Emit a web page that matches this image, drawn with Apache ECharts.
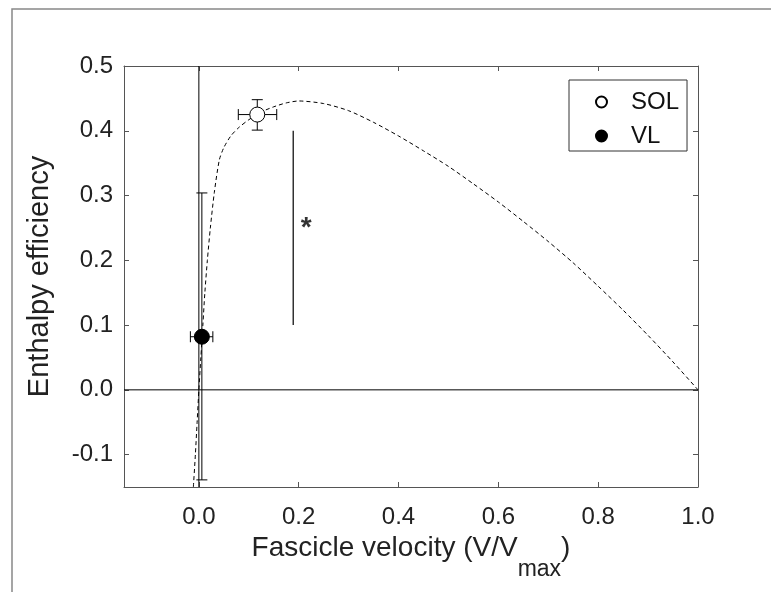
<!DOCTYPE html>
<html>
<head>
<meta charset="utf-8">
<script src="https://cdn.jsdelivr.net/npm/echarts@6/dist/echarts.min.js"></script>
<style>
html,body{margin:0;padding:0;background:#fff;}
#chart{width:771px;height:592px;}
</style>
</head>
<body>
<div id="chart"></div>
<script>
// ---- data ----
var xTicks = [0, 0.2, 0.4, 0.6, 0.8, 1.0];
var yTicks = [-0.1, 0, 0.1, 0.2, 0.3, 0.4, 0.5];
var xRange = [-0.15, 1.0];
var yRange = [-0.15, 0.5];

// dashed efficiency curve (x, y)
var curveX = [-0.011, -0.007, -0.0035, 0.0, 0.004, 0.008, 0.012, 0.017, 0.023, 0.031, 0.041, 0.050, 0.064, 0.080, 0.100, 0.125, 0.150, 0.175, 0.200, 0.250, 0.300, 0.350, 0.400, 0.450, 0.500, 0.550, 0.600, 0.650, 0.700, 0.750, 0.800, 0.850, 0.900, 0.950, 1.000];
var curveY = [-0.150, -0.100, -0.050, 0.000, 0.050, 0.100, 0.150, 0.200, 0.250, 0.305, 0.355, 0.374, 0.392, 0.405, 0.417, 0.429, 0.437, 0.443, 0.446, 0.442, 0.431, 0.413, 0.392, 0.369, 0.345, 0.318, 0.290, 0.260, 0.229, 0.196, 0.160, 0.123, 0.084, 0.043, 0.000];

// muscle means and error limits: [x, y, xLow, xHigh, yLow, yHigh]
var solPoint = [0.117, 0.425, 0.079, 0.156, 0.401, 0.448];
var vlPoint  = [0.006, 0.082, -0.017, 0.028, -0.139, 0.304];

// significance bar and its asterisk
var sigBarX = 0.189;
var sigBarY = [0.10, 0.40];
var sigStar = [0.213, 0.259];

// reference zero lines
var zeroV = [[0, -0.15], [0, 0.5]];
var zeroH = [[-0.15, 0], [1.0, 0]];

var seriesNames = ['SOL', 'VL'];
// ---------------------------------------

var chart = echarts.init(document.getElementById('chart'), null, {renderer: 'canvas'});
var FONT = 'Liberation Sans, Arial, sans-serif';
var AX = '#555';

function fmt(v){ return (Math.round(v*10)/10).toFixed(1); }

function errRender(params, api) {
  var x = api.value(0), y = api.value(1);
  var xl = api.value(2), xh = api.value(3), yl = api.value(4), yh = api.value(5);
  var c = api.coord([x, y]);
  var pxl = api.coord([xl, y]), pxh = api.coord([xh, y]);
  var pyl = api.coord([x, yl]), pyh = api.coord([x, yh]);
  var cap = 5.5;
  var st = {stroke: '#000', lineWidth: 1};
  function ln(x1,y1,x2,y2){ return {type:'line', shape:{x1:x1,y1:y1,x2:x2,y2:y2}, style:st}; }
  return {type: 'group', children: [
    ln(pxl[0], c[1], pxh[0], c[1]),
    ln(pxl[0], c[1]-cap, pxl[0], c[1]+cap),
    ln(pxh[0], c[1]-cap, pxh[0], c[1]+cap),
    ln(c[0], pyl[1], c[0], pyh[1]),
    ln(c[0]-cap, pyl[1], c[0]+cap, pyl[1]),
    ln(c[0]-cap, pyh[1], c[0]+cap, pyh[1])
  ]};
}

var curveData = curveX.map(function(x,i){ return [x, curveY[i]]; });

var option = {
  animation: false,
  backgroundColor: '#fff',
  textStyle: {fontFamily: FONT},
  grid: {left: 124, top: 66, right: 73, bottom: 105, containLabel: false},
  graphic: [{
    type: 'rect', silent: true, z: -1,
    shape: {x: 12, y: 9, width: 800, height: 640},
    style: {fill: 'none', stroke: '#888', lineWidth: 1.5}
  }],
  legend: {
    data: seriesNames,
    orient: 'vertical',
    left: 569, top: 80,
    padding: [10, 8, 3, 26],
    itemWidth: 11, itemHeight: 11, itemGap: 10,
    backgroundColor: '#fff',
    borderColor: '#333', borderWidth: 1,
    textStyle: {fontSize: 24, color: '#111', fontFamily: FONT, lineHeight: 20, padding: [0,0,0,19]}
  },
  xAxis: [{
    type: 'value', min: xRange[0], max: xRange[1],
    position: 'bottom',
    name: '{m|Fascicle velocity (V/V}{s|max}{m|)}',
    nameLocation: 'middle', nameGap: 44,
    nameTextStyle: {fontSize: 28, color: '#222', fontFamily: FONT, verticalAlign: 'top',
      rich: {
        m: {fontSize: 28, color: '#222', fontFamily: FONT, verticalAlign: 'top'},
        s: {fontSize: 23, color: '#222', fontFamily: FONT, padding: [24,0,0,0]}
      }},
    axisLine: {show: true, onZero: false, lineStyle: {color: AX, width: 1}},
    axisTick: {show: true, inside: true, length: 5, customValues: xTicks, lineStyle: {color: AX}},
    axisLabel: {show: true, customValues: xTicks, formatter: fmt, fontSize: 24, color: '#222', margin: 18, fontFamily: FONT},
    splitLine: {show: false}
  }, {
    type: 'value', min: xRange[0], max: xRange[1],
    position: 'top',
    axisLine: {show: true, onZero: false, lineStyle: {color: AX, width: 1}},
    axisTick: {show: true, inside: true, length: 5, customValues: xTicks, lineStyle: {color: AX}},
    axisLabel: {show: false},
    splitLine: {show: false}
  }],
  yAxis: [{
    type: 'value', min: yRange[0], max: yRange[1],
    position: 'left',
    name: 'Enthalpy efficiency',
    nameLocation: 'middle', nameGap: 70,
    nameTextStyle: {fontSize: 29, color: '#222', fontFamily: FONT},
    axisLine: {show: true, onZero: false, lineStyle: {color: AX, width: 1}},
    axisTick: {show: true, inside: true, length: 5, customValues: yTicks, lineStyle: {color: AX}},
    axisLabel: {show: true, customValues: yTicks, formatter: fmt, fontSize: 24, color: '#222', margin: 11, fontFamily: FONT},
    splitLine: {show: false}
  }, {
    type: 'value', min: yRange[0], max: yRange[1],
    position: 'right',
    axisLine: {show: true, onZero: false, lineStyle: {color: AX, width: 1}},
    axisTick: {show: true, inside: true, length: 5, customValues: yTicks, lineStyle: {color: AX}},
    axisLabel: {show: false},
    splitLine: {show: false}
  }],
  series: [
    {
      name: 'zeroV', type: 'line', data: zeroV, symbol: 'none', silent: true,
      lineStyle: {color: '#000', width: 1}, z: 1
    },
    {
      name: 'zeroH', type: 'line', data: zeroH, symbol: 'none', silent: true,
      lineStyle: {color: '#000', width: 1}, z: 1
    },
    {
      name: 'curve', type: 'line', data: curveData, symbol: 'none', smooth: 0.25, silent: true,
      lineStyle: {color: '#000', width: 1, type: [4, 3]}, z: 2
    },
    {
      name: 'sig', type: 'line', data: [[sigBarX, sigBarY[0]], [sigBarX, sigBarY[1]]], symbol: 'none', silent: true,
      lineStyle: {color: '#000', width: 1.2}, z: 2
    },
    {
      name: 'star', type: 'scatter', data: [sigStar], symbolSize: 0, silent: true,
      label: {show: true, position: 'inside', formatter: '*', fontSize: 28, fontWeight: 'bold', color: '#000', fontFamily: FONT, offset: [1, 6]}
    },
    {
      name: 'err', type: 'custom', data: [solPoint, vlPoint], renderItem: errRender, silent: true, z: 3,
      encode: {x: [0, 2, 3], y: [1, 4, 5]}
    },
    {
      name: 'SOL', type: 'scatter', data: [[solPoint[0], solPoint[1]]], symbol: 'circle', symbolSize: 15, z: 4,
      itemStyle: {color: '#fff', borderColor: '#000', borderWidth: 1, opacity: 1}
    },
    {
      name: 'VL', type: 'scatter', data: [[vlPoint[0], vlPoint[1]]], symbol: 'circle', symbolSize: 15, z: 4,
      itemStyle: {color: '#000', borderColor: '#000', borderWidth: 1, opacity: 1}
    }
  ]
};
chart.setOption(option);
</script>
</body>
</html>
